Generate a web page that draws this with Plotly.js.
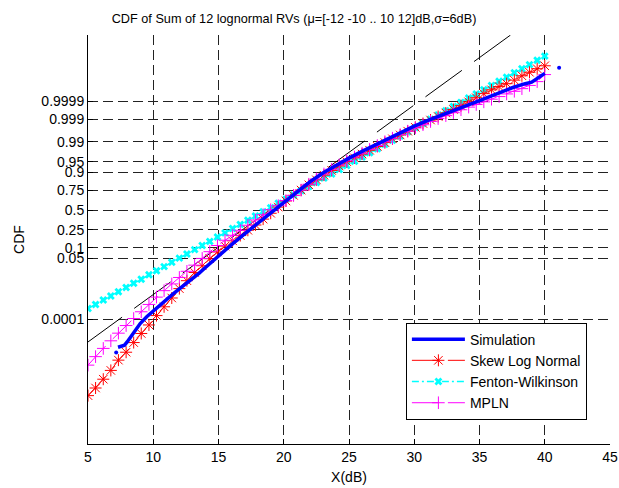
<!DOCTYPE html>
<html><head><meta charset="utf-8">
<script src="https://cdn.plot.ly/plotly-3.0.1.min.js"></script>
<style>html,body{margin:0;padding:0;background:#fff;} #chart{width:619px;height:488px;}</style>
</head><body><div id="chart"></div>
<script>
// ---- DATA (y values are probit / normal-quantile of the CDF) ----
const xdB = [5.00, 5.58, 6.17, 6.75, 7.33, 7.92, 8.50, 9.08, 9.67, 10.25, 10.83, 11.42, 12.00, 12.58, 13.17, 13.75, 14.33, 14.92, 15.50, 16.08, 16.67, 17.25, 17.83, 18.42, 19.00, 19.58, 20.17, 20.75, 21.33, 21.92, 22.50, 23.08, 23.67, 24.25, 24.83, 25.42, 26.00, 26.58, 27.17, 27.75, 28.33, 28.92, 29.50, 30.08, 30.67, 31.25, 31.83, 32.42, 33.00, 33.58, 34.17, 34.75, 35.33, 35.92, 36.50, 37.08, 37.67, 38.25, 38.83, 39.42, 40.00];

const skewLogNormal = [-6.33, -6.07, -5.77, -5.47, -5.12, -4.85, -4.52, -4.21, -3.92, -3.60, -3.30, -3.00, -2.68, -2.41, -2.13, -1.90, -1.66, -1.43, -1.23, -1.05, -0.87, -0.69, -0.51, -0.31, -0.11, 0.10, 0.31, 0.50, 0.68, 0.86, 1.03, 1.19, 1.35, 1.50, 1.65, 1.78, 1.91, 2.04, 2.17, 2.30, 2.43, 2.56, 2.69, 2.82, 2.95, 3.07, 3.19, 3.31, 3.43, 3.56, 3.69, 3.83, 3.97, 4.10, 4.21, 4.31, 4.43, 4.58, 4.70, 4.82, 4.92];

const fentonWilkinson = [-3.36, -3.22, -3.07, -2.93, -2.79, -2.64, -2.50, -2.36, -2.21, -2.07, -1.93, -1.78, -1.64, -1.50, -1.35, -1.21, -1.07, -0.92, -0.78, -0.63, -0.49, -0.35, -0.20, -0.06, 0.08, 0.23, 0.37, 0.51, 0.66, 0.80, 0.94, 1.09, 1.23, 1.38, 1.52, 1.66, 1.81, 1.95, 2.09, 2.24, 2.38, 2.52, 2.67, 2.81, 2.95, 3.10, 3.24, 3.39, 3.53, 3.67, 3.82, 3.96, 4.10, 4.25, 4.39, 4.53, 4.68, 4.82, 4.96, 5.11, 5.25];

const mpln = [-5.29, -5.00, -4.72, -4.46, -4.20, -3.94, -3.70, -3.47, -3.22, -2.97, -2.75, -2.52, -2.30, -2.09, -1.88, -1.65, -1.42, -1.21, -1.03, -0.86, -0.69, -0.52, -0.34, -0.16, 0.01, 0.15, 0.32, 0.50, 0.68, 0.88, 1.06, 1.23, 1.39, 1.54, 1.68, 1.81, 1.94, 2.07, 2.20, 2.33, 2.45, 2.57, 2.69, 2.80, 2.91, 3.02, 3.12, 3.22, 3.32, 3.42, 3.51, 3.60, 3.69, 3.78, 3.87, 3.96, 4.05, 4.14, 4.25, 4.38, 4.62];

const simX = [7.3, 7.5, 7.8, 8.0, 8.2, 8.4, 8.6, 8.8, 9.0, 9.5, 10, 10.5, 11, 11.5, 12, 12.5, 13, 13.5, 14, 14.5, 15, 15.5, 16, 17, 18, 19, 20, 21, 22, 23, 24, 25, 26, 27, 28, 29, 30, 31, 32, 33, 34, 35, 36, 36.5, 37, 37.5, 38, 38.5, 39, 39.4, 39.7, 40];
const simulation = [-4.68, -4.66, -4.61, -4.50, -4.38, -4.24, -4.10, -3.98, -3.87, -3.64, -3.44, -3.24, -3.05, -2.87, -2.69, -2.52, -2.34, -2.16, -1.96, -1.76, -1.56, -1.37, -1.18, -0.81, -0.45, -0.09, 0.27, 0.62, 0.96, 1.26, 1.53, 1.77, 2.00, 2.22, 2.44, 2.65, 2.86, 3.05, 3.23, 3.40, 3.56, 3.73, 3.89, 3.98, 4.08, 4.17, 4.25, 4.31, 4.36, 4.48, 4.58, 4.66];
const simStrayX = [7.16, 41.1];
const simStray = [-4.86, 4.85];

const refX = [1.1, 5, 10, 15, 20, 25, 30, 35, 38];
const refLine = [-5.76, -4.50, -2.88, -1.27, 0.35, 1.97, 3.59, 5.20, 6.17];

const xTicks = [5, 10, 15, 20, 25, 30, 35, 40, 45];
const yTickLabels = ['0.0001', '0.05', '0.1', '0.25', '0.5', '0.75', '0.9', '0.95', '0.99', '0.999', '0.9999'];

// inverse standard normal CDF (Acklam) for the probability-scale ticks
function norminv(p){
  const a=[-3.969683028665376e+01,2.209460984245205e+02,-2.759285104469687e+02,1.383577518672690e+02,-3.066479806614716e+01,2.506628277459239e+00];
  const b=[-5.447609879822406e+01,1.615858368580409e+02,-1.556989798598866e+02,6.680131188771972e+01,-1.328068155288572e+01];
  const c=[-7.784894002430293e-03,-3.223964580411365e-01,-2.400758277161838e+00,-2.549732539343734e+00,4.374664141464968e+00,2.938163982698783e+00];
  const d=[7.784695709041462e-03,3.224671290700398e-01,2.445134137142996e+00,3.754408661907416e+00];
  const pl=0.02425, ph=1-pl; let q,r;
  if(p<pl){q=Math.sqrt(-2*Math.log(p));return (((((c[0]*q+c[1])*q+c[2])*q+c[3])*q+c[4])*q+c[5])/((((d[0]*q+d[1])*q+d[2])*q+d[3])*q+1);}
  if(p<=ph){q=p-0.5;r=q*q;return (((((a[0]*r+a[1])*r+a[2])*r+a[3])*r+a[4])*r+a[5])*q/(((((b[0]*r+b[1])*r+b[2])*r+b[3])*r+b[4])*r+1);}
  q=Math.sqrt(-2*Math.log(1-p));return -(((((c[0]*q+c[1])*q+c[2])*q+c[3])*q+c[4])*q+c[5])/((((d[0]*q+d[1])*q+d[2])*q+d[3])*q+1);
}
const yTickVals = yTickLabels.map(s => norminv(parseFloat(s)));

const traces = [
  {x: refX, y: refLine, mode:'lines', line:{color:'#000', width:1, dash:'45px,15px'}, showlegend:false, hoverinfo:'skip'},
  {x: xdB, y: fentonWilkinson, name:'Fenton-Wilkinson', legendrank:3, mode:'lines+markers',
   line:{color:'#00FFFF', width:1.6, dash:'7px,3px,2px,3px'}, marker:{symbol:'x', size:7, color:'#00FFFF', line:{width:0}}},
  {x: xdB, y: skewLogNormal, name:'Skew Log Normal', legendrank:2, mode:'lines+markers',
   line:{color:'#FF0000', width:1, dash:'26px,10px'}, marker:{symbol:'asterisk-open', size:10, line:{color:'#FF0000', width:1}}},
  {x: xdB, y: mpln, name:'MPLN', legendrank:4, mode:'lines+markers',
   line:{color:'#FF00FF', width:1, dash:'26px,10px'}, marker:{symbol:'cross-thin-open', size:9, line:{color:'#FF00FF', width:1}}},
  {x: simX, y: simulation, name:'Simulation', legendrank:1, mode:'lines',
   line:{color:'#0000FF', width:3.5}},
  {x: simStrayX, y: simStray, mode:'markers', marker:{color:'#0000FF', size:4}, showlegend:false, hoverinfo:'skip'}
];

const axisCommon = {ticks:'inside', ticklen:5, tickcolor:'#000', showline:true, linecolor:'#000', linewidth:1,
  showgrid:true, gridcolor:'#222', griddash:'10px,5px', gridwidth:1, zeroline:false, mirror:false,
  tickfont:{size:14, color:'#000'}};

const layout = {
  width:619, height:488,
  margin:{l:88, r:9, t:35, b:44},
  paper_bgcolor:'#fff', plot_bgcolor:'#fff',
  font:{family:'Liberation Sans, Arial, sans-serif', size:14, color:'#000'},
  title:{text:'CDF of Sum of 12 lognormal RVs (μ=[-12 -10 .. 10 12]dB,σ=6dB)', x:0.475, xanchor:'center', y:0.963, yanchor:'middle', font:{size:12.7}},
  xaxis:Object.assign({}, axisCommon, {range:[5,45], tickvals:xTicks, ticktext:xTicks.map(String),
    title:{text:'X(dB)', font:{size:14}, standoff:8}}),
  yaxis:Object.assign({}, axisCommon, {range:[-7.98,5.97], tickvals:yTickVals, ticktext:yTickLabels,
    title:{text:'CDF', font:{size:14}, standoff:13}}),
  legend:{x:0.609, y:0.297, xanchor:'left', yanchor:'top', bordercolor:'#000', borderwidth:1, bgcolor:'#fff',
    font:{size:14}, itemwidth:53, tracegroupgap:0},
  showlegend:true
};

Plotly.newPlot('chart', traces, layout, {displayModeBar:false, staticPlot:true});
</script></body></html>
